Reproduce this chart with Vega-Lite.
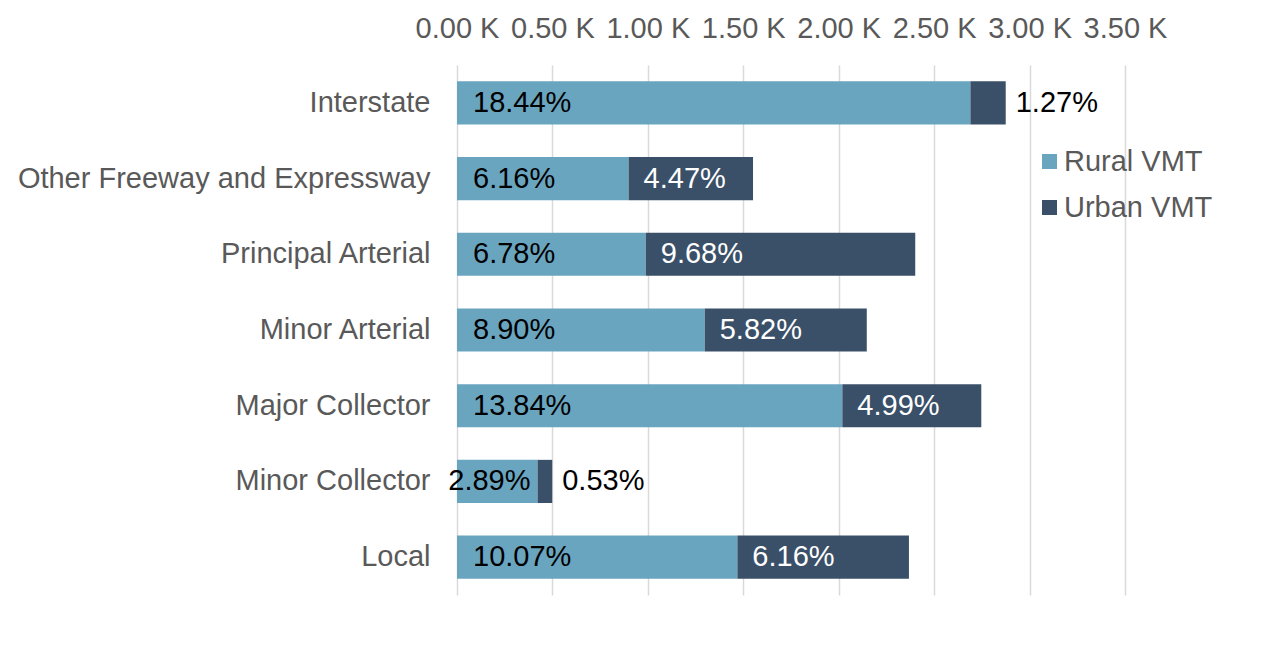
{
  "$schema": "https://vega.github.io/schema/vega-lite/v6.json",
  "width": 668,
  "height": 530,
  "autosize": {"type": "none"},
  "padding": {"left": 457, "top": 65, "right": 141, "bottom": 76},
  "background": "white",
  "config": {
    "font": "Liberation Sans",
    "view": {"stroke": null},
    "axis": {"labelFont": "Liberation Sans", "labelColor": "#595959", "labelFontSize": 29, "domain": false, "ticks": false, "title": null},
    "legend": {"labelFont": "Liberation Sans"}
  },
  "data": {
    "values": [
      {"category": "Interstate", "Rural VMT": 2.690, "Urban VMT": 0.185, "rural_pct": "18.44%", "urban_pct": "1.27%"},
      {"category": "Other Freeway and Expressway", "Rural VMT": 0.899, "Urban VMT": 0.652, "rural_pct": "6.16%", "urban_pct": "4.47%"},
      {"category": "Principal Arterial", "Rural VMT": 0.989, "Urban VMT": 1.412, "rural_pct": "6.78%", "urban_pct": "9.68%"},
      {"category": "Minor Arterial", "Rural VMT": 1.298, "Urban VMT": 0.849, "rural_pct": "8.90%", "urban_pct": "5.82%"},
      {"category": "Major Collector", "Rural VMT": 2.019, "Urban VMT": 0.728, "rural_pct": "13.84%", "urban_pct": "4.99%"},
      {"category": "Minor Collector", "Rural VMT": 0.422, "Urban VMT": 0.077, "rural_pct": "2.89%", "urban_pct": "0.53%"},
      {"category": "Local", "Rural VMT": 1.469, "Urban VMT": 0.899, "rural_pct": "10.07%", "urban_pct": "6.16%"}
    ]
  },
  "encoding": {
    "y": {
      "field": "category",
      "type": "nominal",
      "sort": ["Interstate", "Other Freeway and Expressway", "Principal Arterial", "Minor Arterial", "Major Collector", "Minor Collector", "Local"],
      "scale": {"paddingInner": 0.43, "paddingOuter": 0.215},
      "axis": {"labelPadding": 27, "labelLimit": 0, "grid": false}
    }
  },
  "layer": [
    {
      "transform": [{"fold": ["Rural VMT", "Urban VMT"], "as": ["type", "value"]}],
      "mark": {"type": "bar"},
      "encoding": {
        "x": {
          "field": "value",
          "type": "quantitative",
          "stack": "zero",
          "scale": {"domain": [0, 3.5], "nice": false, "zero": true},
          "axis": {
            "orient": "top",
            "values": [0, 0.5, 1, 1.5, 2, 2.5, 3, 3.5],
            "labelExpr": "format(datum.value, '.2f') + ' K'",
            "labelOverlap": false,
            "labelBound": false,
            "labelFlush": false,
            "grid": true,
            "gridColor": "#d9d9d9",
            "gridWidth": 1.5,
            "labelPadding": 22
          }
        },
        "color": {
          "field": "type",
          "type": "nominal",
          "scale": {"domain": ["Rural VMT", "Urban VMT"], "range": ["#6aa5c0", "#3a5068"]},
          "legend": {
            "orient": "none",
            "legendX": 578,
            "legendY": 82,
            "title": null,
            "symbolType": "square",
            "symbolSize": 225,
            "symbolStrokeWidth": 0,
            "labelFontSize": 29,
            "labelColor": "#595959",
            "labelOffset": 0,
            "rowPadding": 16,
            "padding": 0
          }
        },
        "order": {"field": "type", "sort": "ascending"}
      }
    },
    {
      "transform": [{"fold": ["Rural VMT", "Urban VMT"], "as": ["type", "value"]}],
      "mark": {"type": "text", "align": "left", "baseline": "middle", "dx": 10, "fontSize": 29, "color": "#000000"},
      "encoding": {
        "x": {"field": "value", "type": "quantitative", "stack": "zero"},
        "detail": {"field": "type"},
        "order": {"field": "type", "sort": "ascending"},
        "text": {
          "condition": {"test": "datum.type == 'Urban VMT' && datum.value < 0.3", "field": "urban_pct"},
          "value": ""
        }
      }
    },
    {
      "transform": [{"filter": "datum['Rural VMT'] >= 0.6"}],
      "mark": {"type": "text", "align": "left", "baseline": "middle", "dx": 16, "fontSize": 29, "color": "#000000"},
      "encoding": {
        "x": {"datum": 0, "type": "quantitative"},
        "text": {"field": "rural_pct"}
      }
    },
    {
      "transform": [{"filter": "datum['Rural VMT'] < 0.6"}],
      "mark": {"type": "text", "align": "right", "baseline": "middle", "dx": -7, "fontSize": 29, "color": "#000000"},
      "encoding": {
        "x": {"field": "Rural VMT", "type": "quantitative"},
        "text": {"field": "rural_pct"}
      }
    },
    {
      "transform": [{"filter": "datum['Urban VMT'] >= 0.3"}],
      "mark": {"type": "text", "align": "left", "baseline": "middle", "dx": 15, "fontSize": 29, "color": "#ffffff"},
      "encoding": {
        "x": {"field": "Rural VMT", "type": "quantitative"},
        "text": {"field": "urban_pct"}
      }
    }
  ]
}
